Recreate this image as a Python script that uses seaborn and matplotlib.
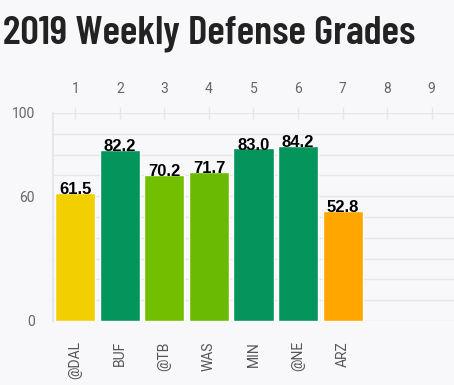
import seaborn as sns
import pandas as pd
import matplotlib.pyplot as plt

# data
weeks = ['1', '2', '3', '4', '5', '6', '7', '8', '9']
opponents = ['@DAL', 'BUF', '@TB', 'WAS', 'MIN', '@NE', 'ARZ']
grades = [61.5, 82.2, 70.2, 71.7, 83.0, 84.2, 52.8]
bar_colors = ['#f2cf00', '#03955b', '#72bf00', '#6aba04', '#03955b', '#03955b', '#ffa600']

df = pd.DataFrame({'opponent': opponents, 'grade': grades})

sns.set_style('white')
plt.rcParams['font.family'] = ['Roboto', 'DejaVu Sans']
bg = '#f8f8fa'
grid = '#e5e5ea'

fig = plt.figure(figsize=(4.54, 3.85), dpi=100, facecolor=bg)
ax = fig.add_axes([53 / 454, 1 - 321 / 385, 1 - 53 / 454, (321 - 113) / 385])
ax.set_facecolor(bg)

sns.barplot(data=df, x='opponent', y='grade', hue='opponent', palette=bar_colors,
            width=0.9, saturation=1, legend=False, ax=ax, zorder=3)

ax.set_xlim(-0.5, 8.5)
ax.set_ylim(0, 100)

# value labels
for i, g in enumerate(grades):
    ax.annotate(f'{g:.1f}', (i, g), xytext=(0, -3), textcoords='offset points',
                ha='center', va='bottom', fontsize=12, fontweight='bold',
                family='Liberation Sans', color='black', zorder=4)

# grid
ax.set_yticks(range(0, 101, 10), minor=True)
ax.set_yticks([0, 60, 100])
ax.set_yticklabels(['0', '60', '100'])
ax.grid(axis='y', which='both', color=grid, lw=1, zorder=0)
ax.tick_params(axis='y', which='both', length=0, labelsize=10, labelcolor='#666666', pad=13)

for s in ['top', 'right', 'bottom']:
    ax.spines[s].set_visible(False)
ax.spines['left'].set_color(grid)
ax.spines['left'].set_linewidth(1.5)

# bottom ticks: opponents
ax.set_xticks(range(9))
ax.set_xticklabels(opponents + ['', ''], rotation=90)
ax.tick_params(axis='x', direction='inout', length=9, color=grid, width=1,
               labelsize=10, labelcolor='#555555', pad=10)
ax.set_xlabel('')
ax.set_ylabel('')

# top ticks: week numbers
top = ax.secondary_xaxis('top')
top.set_xticks(range(9))
top.set_xticklabels(weeks)
top.tick_params(direction='inout', length=9, color=grid, width=1,
                labelsize=10, labelcolor='#666666', pad=8)
top.spines['top'].set_visible(False)

fig.text(3 / 454, 1 - 43 / 385, '2019 Weekly Defense Grades', fontsize=29.5,
         fontweight=600, family='Barlow Condensed', color='#222222',
         ha='left', va='baseline')

fig.savefig('out.png', dpi=100, facecolor=bg)
